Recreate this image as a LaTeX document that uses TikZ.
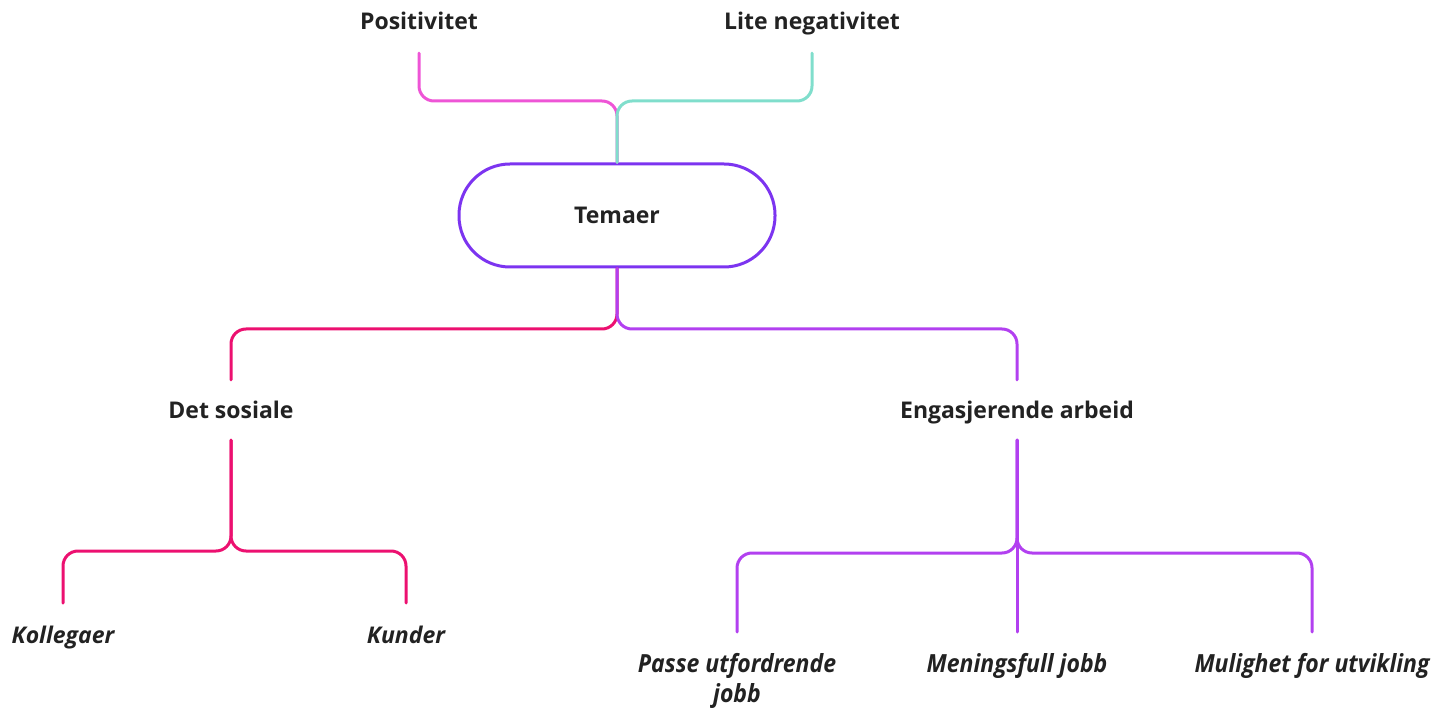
\documentclass[tikz,border=0pt]{standalone}
\usepackage{fontspec}
\setmainfont{Open Sans}
\newfontfamily\narrowfont[FakeStretch=0.92]{Open Sans}
\definecolor{txt}{RGB}{34,34,34}
\definecolor{pinkline}{RGB}{238,85,214}
\definecolor{tealline}{RGB}{128,222,204}
\definecolor{violetline}{RGB}{124,52,240}
\definecolor{crimsonline}{RGB}{236,16,112}
\definecolor{purpleline}{RGB}{178,64,240}
\begin{document}
\begin{tikzpicture}[x=1pt,y=-1pt,
  head/.style={font=\bfseries\fontsize{23}{28}\selectfont, text=txt, inner sep=0pt},
  leaf/.style={font=\bfseries\itshape\fontsize{23}{29}\selectfont, text=txt, inner sep=0pt, anchor=north, align=center},
  narrowleaf/.style={leaf, font=\narrowfont\bfseries\itshape\fontsize{25}{30}\selectfont},
  branch/.style={line width=3pt, rounded corners=15pt, line cap=round}
]
\useasboundingbox (0,0) rectangle (1434,708);

% labels
\node[head, anchor=base, text depth=23pt] (pos) at (419,30) {Positivitet};
\node[head, anchor=base, text depth=23pt] (neg) at (812,30) {Lite negativitet};
\node[font=\bfseries\fontsize{23}{28}\selectfont, text=txt, draw=violetline, line width=3pt,
      rounded corners=51pt, minimum width=316pt, minimum height=103pt] (tem) at (617,215.5) {Temaer};
\node[head, anchor=base, text height=38pt, text depth=22pt] (soc) at (231,418) {Det sosiale};
\node[head, anchor=base, text height=38pt, text depth=22pt] (eng) at (1017,418) {Engasjerende arbeid};

\node[leaf] (kol) at (63,603) {\rule{0pt}{40pt}Kollegaer};
\node[leaf] (kun) at (406,603) {\rule{0pt}{40pt}Kunder};
\node[narrowleaf] (pas) at (737,632) {\rule{0pt}{40pt}Passe utfordrende\\jobb};
\node[narrowleaf] (men) at (1017,632) {\rule{0pt}{40pt}Meningsfull jobb};
\node[narrowleaf] (mul) at (1312,632) {\rule{0pt}{40pt}Mulighet for utvikling};

% junction points
\coordinate (jt) at (617,101);
\coordinate (jb) at (617,329);
\coordinate (js) at (231,551);
\coordinate (je) at (1017,553);

% top branches
\draw[branch, pinkline] (pos.south) |- (jt) -- (tem.north);
\draw[branch, tealline] (neg.south) |- (jt) -- (tem.north);

% middle branches
\draw[branch, crimsonline] (tem.south) -- (jb) -| (soc.north);
\draw[branch, purpleline] (tem.south) -- (jb) -| (eng.north);

% Det sosiale
\draw[branch, crimsonline] (soc.south) -- (js) -| (kol.north);
\draw[branch, crimsonline] (soc.south) -- (js) -| (kun.north);

% Engasjerende arbeid
\draw[branch, purpleline] (eng.south) -- (je) -| (pas.north);
\draw[branch, purpleline] (eng.south) -- (je) -| (mul.north);
\draw[branch, purpleline] (eng.south) -- (men.north);
\end{tikzpicture}
\end{document}
